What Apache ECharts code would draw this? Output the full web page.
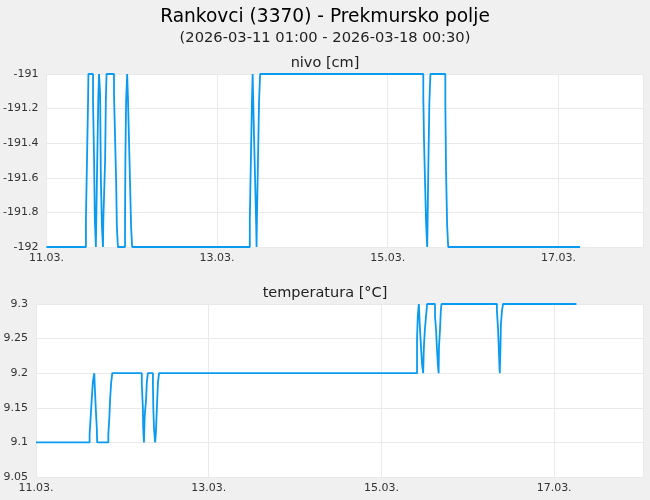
<!DOCTYPE html>
<html><head><meta charset="utf-8">
<script src="https://cdn.jsdelivr.net/npm/echarts@6/dist/echarts.min.js"></script>
<style>html,body{margin:0;background:#f0f0f0}#c{width:650px;height:500px}</style>
</head><body><div id="c"></div>
<script>
// hours since 11.03. 00:00 and values (step changes)
var nivoHours = [0, 11.1, 11.4, 11.7, 11.8, 13.1, 13.4, 13.6, 13.9, 14.2, 14.6, 14.8, 15.1, 15.3, 15.6, 15.9, 16.0,
  16.5, 16.7, 16.9, 19.0, 19.3, 19.6, 19.8, 20.1, 22.1, 22.2, 22.4, 22.7, 22.9, 23.2, 23.5, 23.8, 24.1,
  57.2, 57.5, 57.8, 58.0, 58.1, 58.4, 58.7, 59.0, 59.1, 59.2, 59.5, 59.8, 60.1,
  106.0, 106.2, 106.5, 106.8, 107.1, 107.2, 107.4, 107.7, 108.0, 108.2,
  112.2, 112.4, 112.7, 113.0, 113.1, 150.1];
var nivoValues = [-192, -191.84, -191.5, -191.16, -191, -191.16, -191.5, -191.84, -192, -191.6, -191.12, -191, -191.12, -191.6, -191.88, -192, -191.84,
  -191.5, -191.16, -191, -191.12, -191.37, -191.62, -191.88, -192, -191.84, -191.5, -191.16, -191, -191.12, -191.37, -191.62, -191.88, -192,
  -191.84, -191.5, -191.16, -191, -191.1, -191.37, -191.62, -191.88, -192, -191.84, -191.5, -191.16, -191,
  -191.13, -191.38, -191.63, -191.87, -192, -191.87, -191.56, -191.17, -191,
  -191, -191.17, -191.56, -191.87, -192, -192];

var tempHours = [0, 14.9, 15.2, 15.5, 15.8, 16.2, 16.3, 16.6, 16.9, 17.0, 20.1, 20.4, 20.6, 20.9, 21.2,
  29.4, 29.7, 29.8, 30.0, 30.2, 30.6, 30.8, 31.1, 32.5, 32.6, 32.8, 33.1, 33.3, 33.5, 33.7, 33.9, 34.2,
  105.9, 106.1, 106.4, 106.7, 107.0, 107.3, 107.6, 107.8, 108.1, 108.4, 108.7,
  110.9, 111.2, 111.4, 111.7, 111.9, 112.0, 112.3, 112.5, 112.7,
  128.1, 128.4, 128.6, 128.8, 128.9, 129.1, 129.2, 129.5, 129.8, 150.2];
var tempValues = [9.1, 9.112, 9.137, 9.163, 9.187, 9.2, 9.185, 9.15, 9.12, 9.1, 9.112, 9.137, 9.163, 9.187, 9.2,
  9.185, 9.15, 9.12, 9.1, 9.137, 9.163, 9.187, 9.2, 9.185, 9.15, 9.12, 9.1, 9.112, 9.137, 9.163, 9.187, 9.2,
  9.25, 9.282, 9.3, 9.265, 9.238, 9.212, 9.2, 9.238, 9.265, 9.282, 9.3,
  9.282, 9.262, 9.238, 9.212, 9.2, 9.238, 9.265, 9.29, 9.3,
  9.29, 9.265, 9.24, 9.21, 9.2, 9.24, 9.27, 9.29, 9.3, 9.3];

var xTickLabels = ['11.03.', '13.03.', '15.03.', '17.03.'];

function pairs(h, v) { return h.map(function (x, i) { return [x, v[i]]; }); }

var myChart = echarts.init(document.getElementById('c'));
var xAxisBase = {
  type: 'value', min: 0, interval: 48,
  axisLine: { show: false }, axisTick: { show: false },
  splitLine: { show: true, lineStyle: { color: '#eaeaea' } },
  axisLabel: { color: '#333', fontSize: 11, margin: 6, showMaxLabel: false,
    formatter: function (v) { return xTickLabels[v / 48] || ''; } }
};
var yAxisBase = {
  type: 'value', axisLine: { show: false }, axisTick: { show: false },
  splitLine: { lineStyle: { color: '#eaeaea' } },
  axisLabel: { color: '#333', fontSize: 11, margin: 8 }
};
myChart.setOption({
  animation: false,
  backgroundColor: '#f0f0f0',
  textStyle: { fontFamily: 'DejaVu Sans' },
  title: [
    { text: 'Rankovci (3370) - Prekmursko polje', left: 'center', top: 3,
      textStyle: { fontSize: 18.6, fontWeight: 'normal', color: '#000' } },
    { text: '(2026-03-11 01:00 - 2026-03-18 00:30)', left: 'center', top: 26,
      textStyle: { fontSize: 14.7, fontWeight: 'normal', color: '#222' } },
    { text: 'nivo [cm]', left: 'center', top: 51,
      textStyle: { fontSize: 14.5, fontWeight: 'normal', color: '#222' } },
    { text: 'temperatura [°C]', left: 'center', top: 281,
      textStyle: { fontSize: 14.5, fontWeight: 'normal', color: '#222' } }
  ],
  grid: [
    { left: 46, right: 7, top: 74, height: 173, show: true, backgroundColor: '#fff', borderWidth: 0 },
    { left: 36, right: 7, top: 304, height: 173, show: true, backgroundColor: '#fff', borderWidth: 0 }
  ],
  xAxis: [
    Object.assign({}, xAxisBase, { gridIndex: 0, max: 167.8 }),
    Object.assign({}, xAxisBase, { gridIndex: 1, max: 168.7 })
  ],
  yAxis: [
    Object.assign({}, yAxisBase, { gridIndex: 0, min: -192, max: -191, interval: 0.2,
      axisLabel: Object.assign({}, yAxisBase.axisLabel, { formatter: function (v) { return +v.toFixed(1); } }) }),
    Object.assign({}, yAxisBase, { gridIndex: 1, min: 9.05, max: 9.3, interval: 0.05,
      axisLabel: Object.assign({}, yAxisBase.axisLabel, { formatter: function (v) { return +v.toFixed(2); } }) })
  ],
  series: [
    { type: 'line', step: 'end', xAxisIndex: 0, yAxisIndex: 0, data: pairs(nivoHours, nivoValues),
      showSymbol: false, lineStyle: { color: '#0a9bf0', width: 1.8 } },
    { type: 'line', step: 'end', xAxisIndex: 1, yAxisIndex: 1, data: pairs(tempHours, tempValues),
      showSymbol: false, lineStyle: { color: '#0a9bf0', width: 1.8 } }
  ]
});
</script></body></html>
